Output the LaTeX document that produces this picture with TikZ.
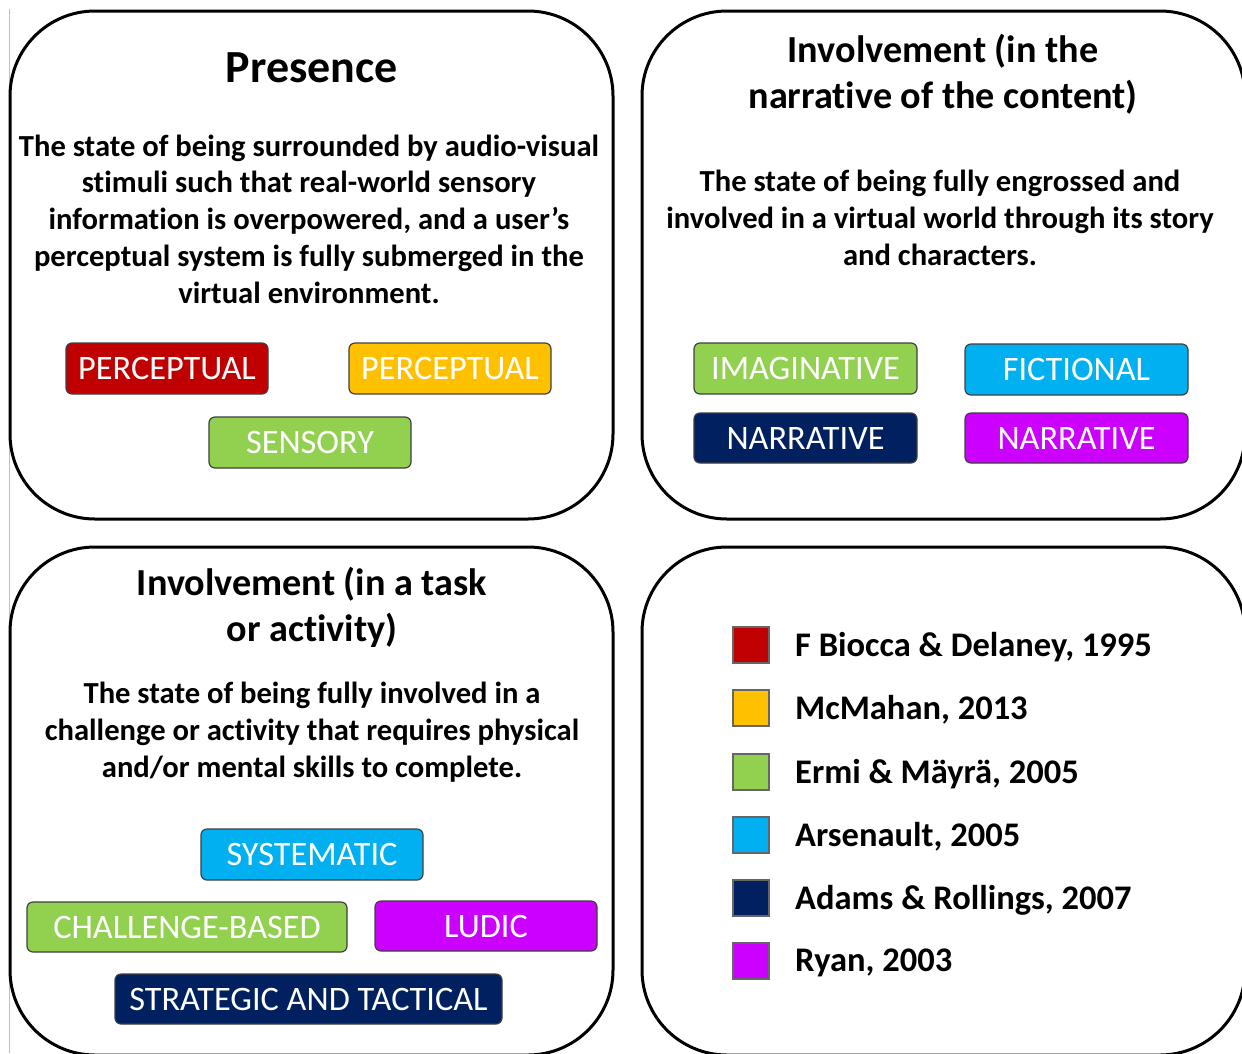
\documentclass[tikz,border=0pt]{standalone}
\usepackage{fontspec}
\setmainfont{Carlito}[Ligatures=NoCommon]
\begin{document}
\begin{tikzpicture}[x=1pt,y=-1pt,
  panel/.style={draw=black,line width=3pt,rounded corners=85pt},
  title/.style={font=\bfseries\fontsize{46}{50}\selectfont,align=center,inner sep=0pt},
  subtitle/.style={font=\bfseries\fontsize{38.2}{46}\selectfont,align=center,inner sep=0pt},
  body/.style={font=\bfseries\fontsize{30.6}{36.8}\selectfont,align=center,inner sep=0pt},
  tag/.style={draw=black!75,line width=1.2pt,rounded corners=6pt,text=white,
    font=\fontsize{34.3}{38}\selectfont,inner sep=0pt,minimum height=51pt,
    text height=22pt,text depth=0pt},
  key/.style={draw=black!60,line width=1.2pt,minimum size=36pt,inner sep=0pt},
  keytext/.style={font=\bfseries\fontsize{34.5}{40}\selectfont,anchor=west,inner sep=0pt}]
\definecolor{cRed}{HTML}{C00000}
\definecolor{cOrange}{HTML}{FFC000}
\definecolor{cGreen}{HTML}{92D050}
\definecolor{cBlue}{HTML}{00B0F0}
\definecolor{cNavy}{HTML}{002060}
\definecolor{cMagenta}{HTML}{CC00FF}
\useasboundingbox (0,0) rectangle (1242,1053);
\clip (0,0) rectangle (1242,1053);
\fill[white] (0,0) rectangle (1242,1053);

% thin rule on the left
\draw[black!25,line width=1pt] (9.5,9) -- (9.5,1053);

% four rounded panels
\draw[panel] (10,11) rectangle (613,519);
\draw[panel] (642,11) rectangle (1245,519);
\draw[panel] (10,547) rectangle (613,1055);
\draw[panel] (642,547) rectangle (1245,1055);

% Presence
\node[title] (presT) at (312,68) {Presence};
\node[body] (presB) at (309,219) {The state of being surrounded by audio-visual\\
  stimuli such that real-world sensory\\
  information is overpowered, and a user’s\\
  perceptual system is fully submerged in the\\
  virtual environment.};
\node[tag,fill=cRed,minimum width=202pt] (p1) at (167,368.5) {PERCEPTUAL};
\node[tag,fill=cOrange,minimum width=202pt] (p2) at (450,368.5) {PERCEPTUAL};
\node[tag,fill=cGreen,minimum width=202pt] (p3) at (310,442.5) {SENSORY};

% Involvement in the narrative
\node[subtitle] (narT) at (943,74) {Involvement (in the\\narrative of the content)};
\node[body] (narB) at (940,218) {The state of being fully engrossed and\\
  involved in a virtual world through its story\\
  and characters.};
\node[tag,fill=cGreen,minimum width=223pt] (n1) at (805.5,368.5) {IMAGINATIVE};
\node[tag,fill=cBlue,minimum width=223pt] (n2) at (1076.5,369.5) {FICTIONAL};
\node[tag,fill=cNavy,minimum width=223pt,minimum height=50pt] (n3) at (805.5,438) {NARRATIVE};
\node[tag,fill=cMagenta,minimum width=223pt,minimum height=50pt] (n4) at (1076.5,438) {NARRATIVE};

% Involvement in a task
\node[subtitle] (taskT) at (312,607) {Involvement (in a task\\or activity)};
\node[body] (taskB) at (312,732) {The state of being fully involved in a\\
  challenge or activity that requires physical\\
  and/or mental skills to complete.};
\node[tag,fill=cBlue,minimum width=222pt] (t1) at (312,854.5) {SYSTEMATIC};
\node[tag,fill=cGreen,minimum width=320pt,minimum height=50pt] (t2) at (187,927) {CHALLENGE-BASED};
\node[tag,fill=cMagenta,minimum width=222pt,minimum height=50pt] (t3) at (486,926) {LUDIC};
\node[tag,fill=cNavy,minimum width=387pt,minimum height=50pt] (t4) at (308.5,999) {STRATEGIC AND TACTICAL};

% legend
\node[key,fill=cRed] (k1) at (751,645) {};
\node[key,fill=cOrange] (k2) at (751,708) {};
\node[key,fill=cGreen] (k3) at (751,772) {};
\node[key,fill=cBlue] (k4) at (751,835) {};
\node[key,fill=cNavy] (k5) at (751,898) {};
\node[key,fill=cMagenta] (k6) at (751,961) {};
\node[keytext] (l1) at (795,647) {F Biocca \& Delaney, 1995};
\node[keytext] (l2) at (795,710) {McMahan, 2013};
\node[keytext] (l3) at (795,774) {Ermi \& Mäyrä, 2005};
\node[keytext] (l4) at (795,837) {Arsenault, 2005};
\node[keytext] (l5) at (795,900) {Adams \& Rollings, 2007};
\node[keytext] (l6) at (795,963) {Ryan, 2003};
\end{tikzpicture}
\end{document}
